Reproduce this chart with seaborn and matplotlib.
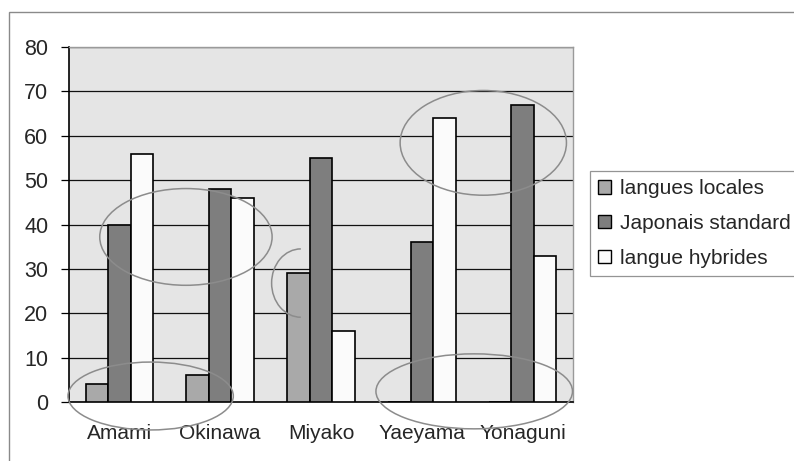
import matplotlib
matplotlib.use("Agg")
import matplotlib.pyplot as plt
from matplotlib.patches import Ellipse, Arc, Rectangle
import seaborn as sns
import pandas as pd

islands = ["Amami", "Okinawa", "Miyako", "Yaeyama", "Yonaguni"]
series = ["langues locales", "Japonais standard", "langue hybrides"]
langues_locales = [4, 6, 29, 0, 0]
japonais_standard = [40, 48, 55, 36, 67]
langue_hybrides = [56, 46, 16, 64, 33]
y_ticks = [0, 10, 20, 30, 40, 50, 60, 70, 80]

rows = []
for name, vals in zip(series, [langues_locales, japonais_standard, langue_hybrides]):
    for isl, v in zip(islands, vals):
        rows.append({"ile": isl, "part": v, "langue": name})
df = pd.DataFrame(rows)

sns.set_style("white")
plt.rcParams["font.family"] = ["Liberation Sans", "DejaVu Sans"]

fig = plt.figure(figsize=(7.94, 4.61), dpi=100)
W, H = 794, 461
ax = fig.add_axes([69 / W, 1 - 402 / H, (573 - 69) / W, (402 - 47) / H])
ax.set_facecolor("#e5e5e5")

palette = {"langues locales": "#a9a9a9",
           "Japonais standard": "#7e7e7e",
           "langue hybrides": "#fbfbfb"}
sns.barplot(data=df, x="ile", y="part", hue="langue", hue_order=series,
            palette=palette, order=islands, width=0.67, edgecolor="black",
            linewidth=1.2, saturation=1, ax=ax, zorder=3, legend=True)

ax.set_ylim(0, 80)
ax.set_xlim(-0.5, 4.5)
ax.set_yticks(y_ticks)
ax.yaxis.grid(True, color="#111111", linewidth=0.9, zorder=0)
ax.set_axisbelow(True)
ax.set_xlabel("")
ax.set_ylabel("")

# category separators on the x axis
ax.set_xticks([0, 1, 2, 3, 4])
ax.set_xticklabels(islands)
ax.set_xticks([0.5, 1.5, 2.5, 3.5], minor=True)
ax.tick_params(axis="x", which="major", length=0, pad=16, labelsize=15)
ax.tick_params(axis="x", which="minor", length=6, width=0.8, color="#555555")
ax.tick_params(axis="y", length=6, width=0.9, color="black", pad=9,
               labelsize=15.5, left=True)
for side in ["left", "bottom"]:
    ax.spines[side].set_color("black")
    ax.spines[side].set_linewidth(1.2)
for side in ["top", "right"]:
    ax.spines[side].set_color("#9a9a9a")
    ax.spines[side].set_linewidth(1.0)

# hand-drawn highlight ellipses
ring = dict(fill=False, edgecolor="#8c8c8c", linewidth=1.1, zorder=6, clip_on=False)
ax.add_patch(Ellipse((0.66, 37.2), 1.71, 21.8, **ring))
ax.add_patch(Ellipse((0.31, 1.35), 1.64, 15.3, **ring))
ax.add_patch(Ellipse((3.61, 58.4), 1.65, 23.6, **ring))
ax.add_patch(Ellipse((3.52, 2.4), 1.95, 16.9, **ring))
ax.add_patch(Arc((1.80, 26.8), 0.58, 15.4, theta1=90, theta2=270, **ring))

# legend
leg = ax.legend(loc="upper left", bbox_to_anchor=(590 / W, 1 - 171 / H),
                bbox_transform=fig.transFigure, frameon=True, fontsize=15,
                handlelength=0.6, handleheight=0.6, handletextpad=0.45,
                labelspacing=0.76, borderpad=0.4, fancybox=False,
                borderaxespad=0)
leg.get_frame().set_edgecolor("#7a7a7a")
leg.get_frame().set_linewidth(0.9)
for h in leg.legend_handles:
    h.set_edgecolor("black")
    h.set_linewidth(1.0)

# outer chart frame
fig.patches.append(Rectangle((9 / W, -0.05), 1.0, 1 - 12 / H + 0.05,
                             transform=fig.transFigure, fill=False,
                             edgecolor="#8a8a8a", linewidth=1.0))

fig.savefig("out.png", dpi=100, facecolor="white")
